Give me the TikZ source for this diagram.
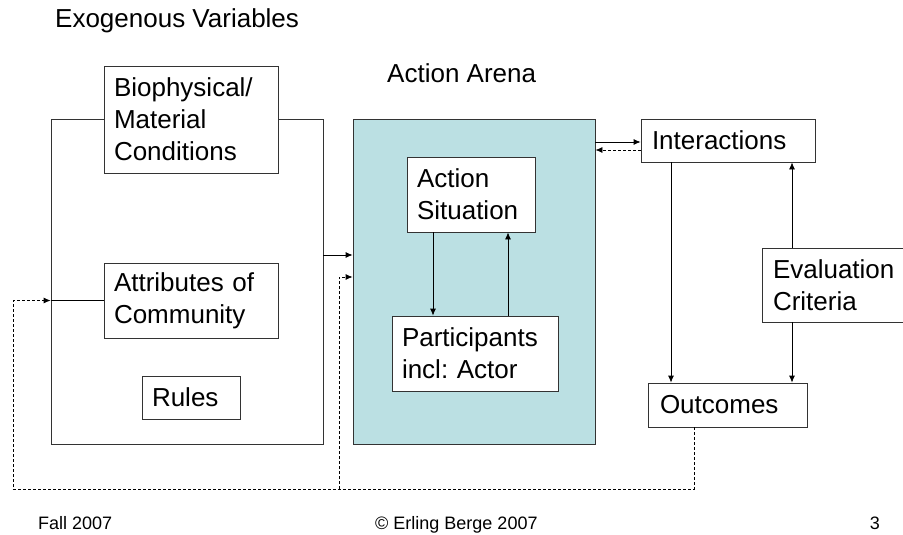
\documentclass[tikz,border=0pt]{standalone}
\usepackage{fontspec}
\setmainfont{Liberation Sans}
\usepackage{tikz}
\usetikzlibrary{arrows.meta}
\definecolor{arenablue}{HTML}{BBE0E3}
\frenchspacing

\begin{document}
\begin{tikzpicture}[x=1pt, y=-1pt,
  box/.style={draw=black!80, fill=white, line width=0.8pt, inner sep=0pt, align=left, font=\fontsize{26}{32}\selectfont},
  link/.style={line width=0.8pt, -{Latex[length=7pt,width=6pt]}},
  back/.style={link, dash pattern=on 3pt off 2pt}]

\useasboundingbox (0,0) rectangle (903,535);

% Exogenous frame and the action arena
\node[draw=black!80, line width=0.8pt, minimum width=272pt, minimum height=325pt, inner sep=0pt] (exo) at (187,281.5) {};
\node[draw=black!80, fill=arenablue, line width=0.8pt, minimum width=242pt, minimum height=325pt, inner sep=0pt] (arena) at (474,281.5) {};

% Titles
\node[anchor=base west, inner sep=0pt, font=\fontsize{26}{32}\selectfont] (exotitle) at (55,28) {Exogenous Variables};
\node[anchor=base west, inner sep=0pt, font=\fontsize{26}{32}\selectfont] (arenatitle) at (387,83) {Action Arena};

% Boxes
\node[box, minimum width=174pt, minimum height=107pt, text width=154pt] (bio) at (191,119.5) {Biophysical/\\Material\\Conditions};
\node[box, minimum width=174pt, minimum height=75pt, text width=154pt] (attr) at (191,300.5) {Attributes of\\Community};
\node[box, minimum width=98pt, minimum height=43pt, text width=78pt] (rules) at (191,397.5) {Rules};
\node[box, minimum width=128pt, minimum height=75pt, text width=108pt] (sit) at (471,194.5) {Action\\Situation};
\node[box, minimum width=166pt, minimum height=75pt, text width=146pt] (part) at (475,353.5) {Participants\\incl: Actor};
\node[box, minimum width=174pt, minimum height=43pt, text width=152pt] (inter) at (728,140.5) {Interactions};
\node[box, minimum width=150pt, minimum height=74pt, text width=128pt] (eval) at (837,285) {Evaluation\\Criteria};
\node[box, minimum width=159pt, minimum height=44pt, text width=135pt] (outc) at (727.5,405) {Outcomes};

% Arrows inside the arena
\draw[link] (sit.south -| 433,0) -- (part.north -| 433,0);
\draw[link] (part.north -| 508,0) -- (sit.south -| 508,0);

% Arrows between the blocks
\draw[line width=0.8pt] (attr.west) -- (exo.west |- attr.west);
\draw[link] (exo.east |- 0,255) -- (arena.west |- 0,255);
\draw[link] (arena.east |- 0,142) -- (inter.west |- 0,142);
\draw[back] (inter.west |- 0,150) -- (arena.east |- 0,150);
\draw[link] (inter.south -| 671,0) -- (outc.north -| 671,0);
\draw[link] (eval.north -| 792,0) -- (inter.south -| 792,0);
\draw[link] (eval.south -| 792,0) -- (outc.north -| 792,0);

% Feedback from the outcomes
\coordinate (loopR) at (694,489);
\coordinate (loopL) at (13,489);
\coordinate (split) at (339,489);
\draw[back] (outc.south -| loopR) -- (loopR) -- (loopL) |- (exo.west |- attr.west);
\draw[back] (split) |- (arena.west |- 0,277);

% Footer
\node[anchor=base west, inner sep=0pt, font=\fontsize{18}{22}\selectfont] (season) at (38,529) {Fall 2007};
\node[anchor=base west, inner sep=0pt, font=\fontsize{18}{22}\selectfont] (owner) at (375,529) {© Erling Berge 2007};
\node[anchor=base east, inner sep=0pt, font=\fontsize{18}{22}\selectfont] (page) at (880,529) {3};
\end{tikzpicture}
\end{document}
